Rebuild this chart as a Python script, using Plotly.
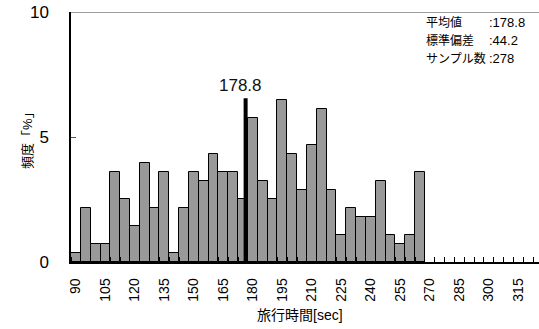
import plotly.graph_objects as go

# Travel-time histogram: 5-second bins starting at 90 sec
bin_starts = list(range(90, 270, 5))
counts = [1, 6, 2, 2, 10, 7, 4, 11, 6, 10, 1, 6,
          10, 9, 12, 10, 10, 7, 16, 9, 7, 18, 12, 8,
          13, 17, 8, 3, 6, 5, 5, 9, 3, 2, 3, 10]
sample_size = 278
mean_value = 178.8
std_value = 44.2
mean_bar_top = 6.55

tick_labels = list(range(90, 330, 15))
bin_width = 5
x_max = 328

freq_pct = [c / sample_size * 100 for c in counts]
bar_x = [b + bin_width / 2 for b in bin_starts]

FONT = "Arial, 'Liberation Sans', 'Noto Sans CJK JP', sans-serif"

fig = go.Figure()
fig.add_trace(go.Bar(
    x=bar_x, y=freq_pct, width=bin_width,
    marker=dict(color="#999999", line=dict(color="black", width=1)),
    showlegend=False, hoverinfo="skip",
))

# Mean marker
fig.add_shape(type="line", x0=mean_value, x1=mean_value, y0=0, y1=mean_bar_top,
              xref="x", yref="y", line=dict(color="black", width=4), layer="above")
fig.add_annotation(x=mean_value, y=mean_bar_top, xref="x", yref="y",
                   text=f"{mean_value:.1f}", showarrow=False, yanchor="bottom",
                   xshift=-5, yshift=1, font=dict(size=17, color="#111111"))

# Top frame line
fig.add_shape(type="line", x0=0, x1=1, y0=10, y1=10, xref="paper", yref="y",
              line=dict(color="#7f7f7f", width=1.5), layer="above")

# Summary statistics
W, H, L, T = 468.0, 250.0, 71.0, 12.0
def px(x):
    return (x - L) / W
def py(y):
    return (T + H - y) / H

stats = [("平均値", f":{mean_value:.1f}", 22),
         ("標準偏差", f":{std_value:.1f}", 40),
         ("サンプル数", f":{sample_size}", 59)]
for label, value, ypos in stats:
    fig.add_annotation(x=px(424), y=py(ypos), xref="paper", yref="paper",
                       text=label, showarrow=False, xanchor="left", yanchor="middle",
                       font=dict(size=12, color="black"))
    fig.add_annotation(x=px(487), y=py(ypos), xref="paper", yref="paper",
                       text=value, showarrow=False, xanchor="left", yanchor="middle",
                       font=dict(size=13, color="black"))

# Axis titles
fig.add_annotation(x=px(300), y=py(315), xref="paper", yref="paper",
                   text="旅行時間[sec]", showarrow=False, xanchor="center", yanchor="middle",
                   font=dict(size=14, color="black"))
fig.add_annotation(x=px(27), y=py(137), xref="paper", yref="paper",
                   text="頻度「%」", showarrow=False, textangle=-90,
                   xanchor="center", yanchor="middle",
                   font=dict(size=13, color="black"))

fig.update_layout(
    width=539, height=329,
    margin=dict(l=71, r=0, t=12, b=67),
    paper_bgcolor="white", plot_bgcolor="white",
    font=dict(family=FONT, color="black"),
    bargap=0,
    xaxis=dict(
        range=[bin_starts[0], x_max],
        tickmode="array",
        tickvals=[t + bin_width / 2 for t in tick_labels],
        ticktext=[str(t) for t in tick_labels],
        tickangle=-90, tickfont=dict(size=14),
        ticks="", ticklabelstandoff=9,
        showline=True, linecolor="black", linewidth=1.5,
        showgrid=False, zeroline=False,
        minor=dict(tickmode="linear", tick0=bin_starts[0], dtick=bin_width,
                   ticks="inside", ticklen=5, tickcolor="black", showgrid=False),
    ),
    yaxis=dict(
        range=[0, 10], tickvals=[0, 5, 10],
        tickfont=dict(size=17),
        ticks="inside", ticklen=5, tickcolor="#555555",
        ticklabelstandoff=17,
        showline=True, linecolor="black", linewidth=1.5,
        showgrid=False, zeroline=False,
    ),
)

fig.write_html("out.html")
